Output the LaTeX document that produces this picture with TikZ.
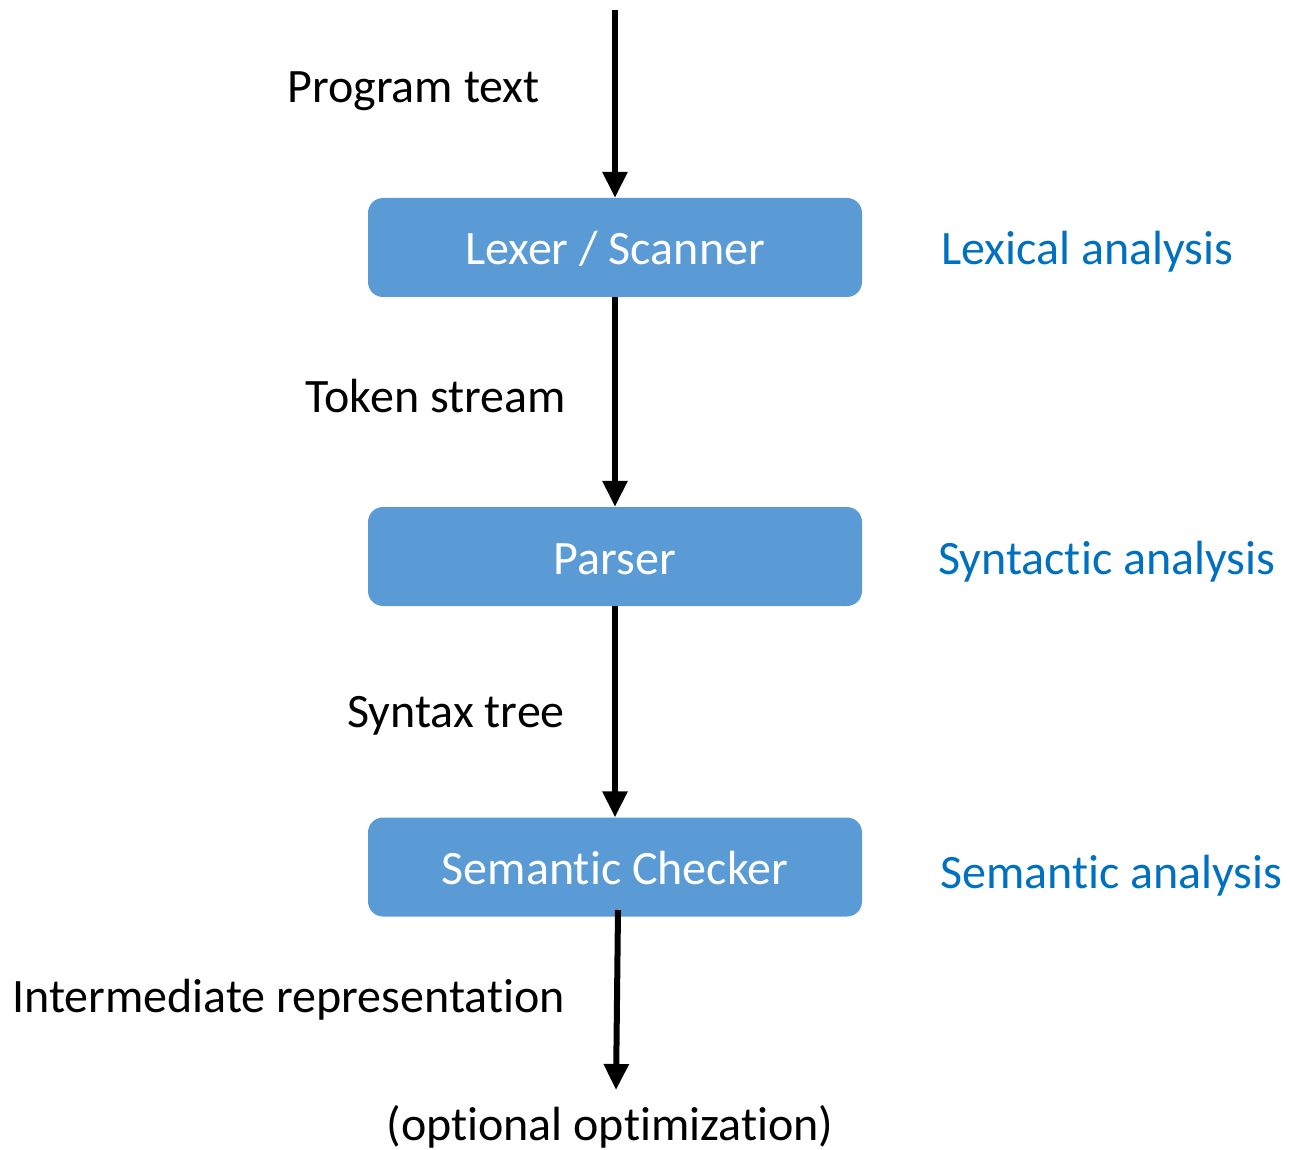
\documentclass[tikz,border=0pt]{standalone}
\usepackage{fontspec}
\setmainfont[RawFeature={-liga;-clig;-calt;-dlig}]{Carlito}
\usetikzlibrary{arrows.meta}
\definecolor{boxblue}{HTML}{5B9BD5}
\definecolor{labelblue}{HTML}{0070C0}
\tikzset{
  stage/.style={fill=boxblue, rounded corners=15pt, minimum width=494pt, minimum height=99pt,
    inner sep=0pt, text height=35pt, text depth=0pt, text=white, font=\fontsize{48}{56}\selectfont},
  flowlabel/.style={font=\fontsize{48}{56}\selectfont, inner sep=0pt},
  phase/.style={font=\fontsize{48}{56}\selectfont, inner sep=0pt, text=labelblue, anchor=base west},
  flow/.style={line width=6pt, -{Triangle[width=24pt,length=26pt]}}
}
\begin{document}
\begin{tikzpicture}[x=1pt,y=-1pt]
\useasboundingbox (0,0) rectangle (1290,1150);
% processing stages
\node[stage] (lex) at (615,247.5) {Lexer / Scanner};
\node[stage] (par) at (615,556.5) {Parser};
\node[stage] (sem) at (615,867) {Semantic Checker};
% loose ends of the pipeline
\coordinate (in) at (615,10);
\coordinate (semout) at (618,910);
\coordinate (out) at (616,1090);
% data flow
\draw[flow] (in) -- (lex.north);
\draw[flow] (lex.south) -- (par.north);
\draw[flow] (par.south) -- (sem.north);
\draw[flow] (semout) -- (out);
% data labels
\node[flowlabel, anchor=base east] (l1) at (540,103) {Program text};
\node[flowlabel, anchor=base east] (l2) at (566,412) {Token stream};
\node[flowlabel, anchor=base east] (l3) at (565,727) {Syntax tree};
\node[flowlabel, anchor=base east] (l4) at (565,1012) {Intermediate representation};
\node[flowlabel, anchor=base] (l5) at (610,1140) {(optional optimization)};
% phase names
\node[phase] (p1) at (941,265) {Lexical analysis};
\node[phase] (p2) at (938,574) {Syntactic analysis};
\node[phase] (p3) at (940,888) {Semantic analysis};
\end{tikzpicture}
\end{document}
